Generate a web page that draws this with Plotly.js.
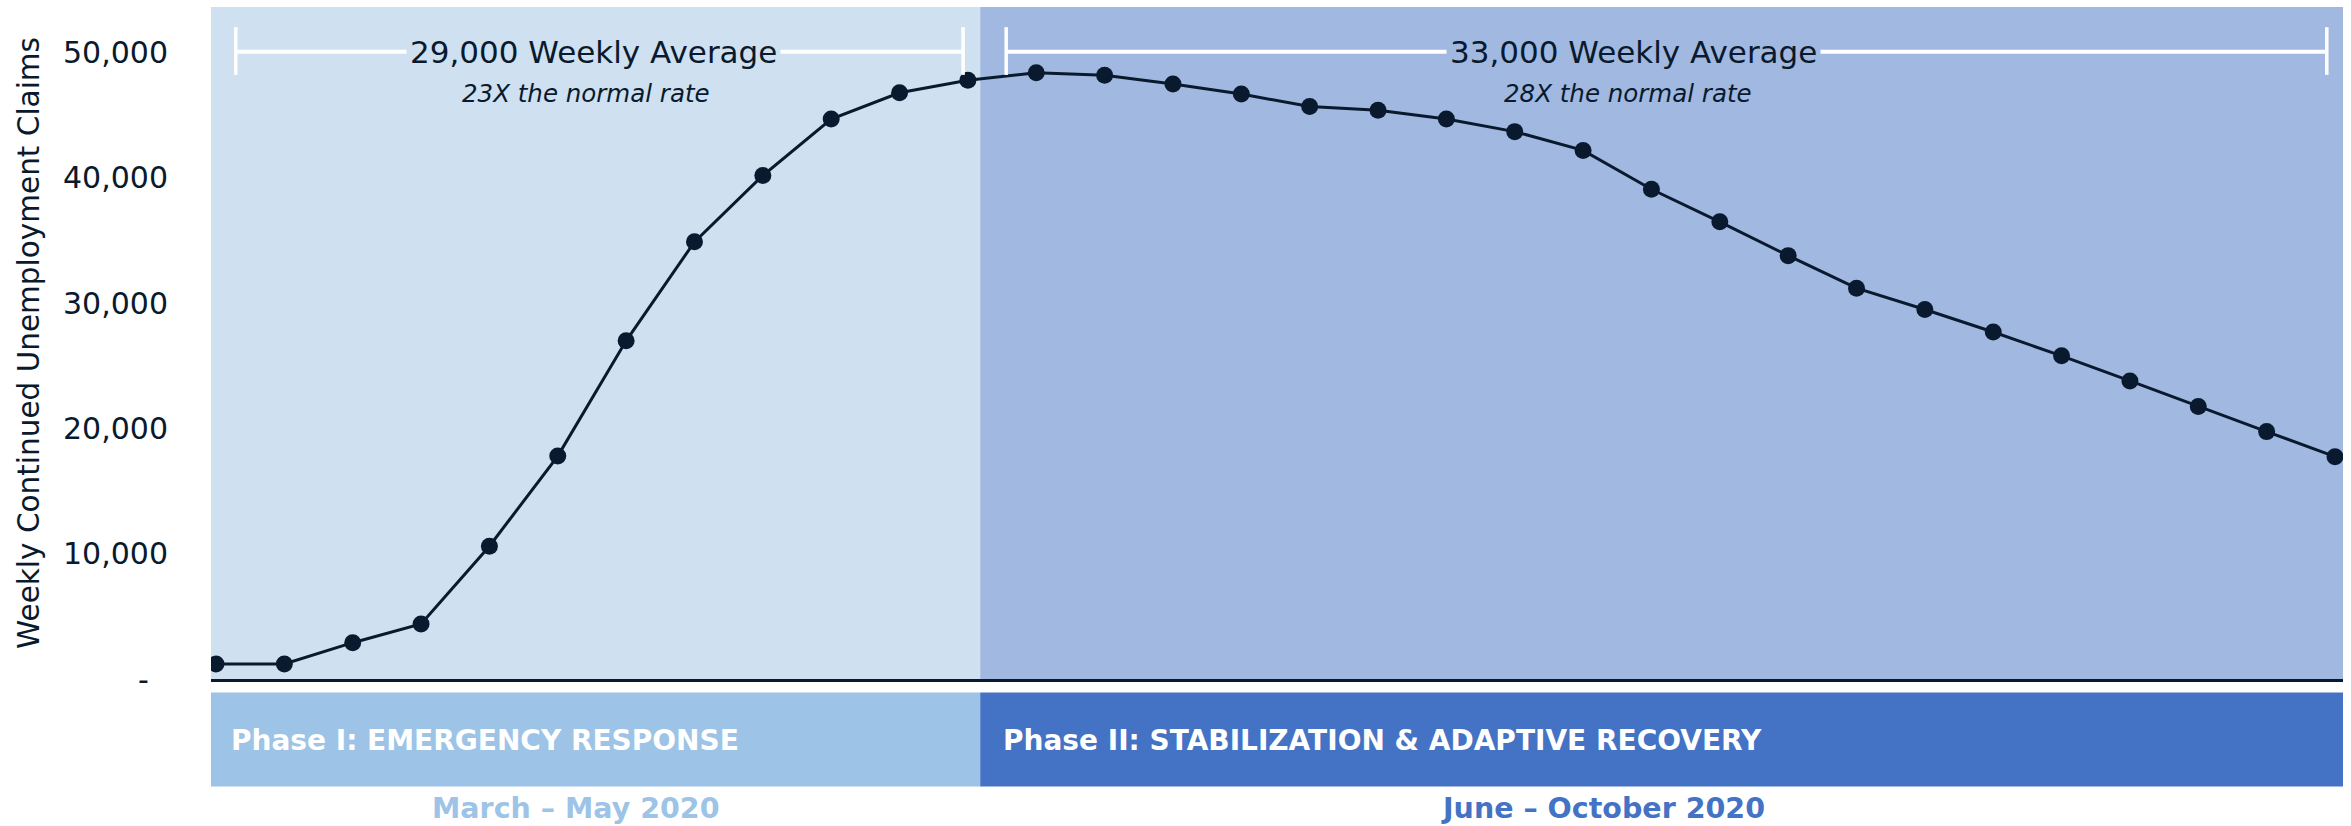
<!DOCTYPE html>
<html>
<head>
<meta charset="utf-8">
<script src="https://cdn.plot.ly/plotly-3.0.1.min.js"></script>
<style>
  html, body { margin: 0; padding: 0; background: #ffffff; }
  #chart { width: 2351px; height: 826px; }
</style>
</head>
<body>
<div id="chart"></div>
<script>
// Weekly continued unemployment claims, March - October 2020
const weeks = [1, 2, 3, 4, 5, 6, 7, 8, 9, 10, 11, 12, 13, 14, 15, 16,
               17, 18, 19, 20, 21, 22, 23, 24, 25, 26, 27, 28, 29, 30, 31, 32];
const claims = [1200, 1200, 2900, 4400, 10600, 17800, 27000, 34900, 40200, 44700, 46800, 47800,
                48400, 48200, 47500, 46700, 45700, 45400, 44700, 43700, 42200, 39100, 36500, 33800,
                31200, 29500, 27700, 25800, 23800, 21750, 19750, 17750];

const yTickVals = [0, 10000, 20000, 30000, 40000, 50000];
const yTickText = ['-\u00a0\u00a0', '10,000', '20,000', '30,000', '40,000', '50,000'];

const phaseNames = ['Phase I: EMERGENCY RESPONSE', 'Phase II: STABILIZATION & ADAPTIVE RECOVERY'];
const phaseDates = ['March \u2013 May 2020', 'June \u2013 October 2020'];
const phaseAverages = ['29,000 Weekly Average', '33,000 Weekly Average'];
const phaseMultiples = ['23X the normal rate', '28X the normal rate'];

// layout constants
const FONT = 'DejaVu Sans';
const INK = '#0A1A2E';
const xRange = [0.927, 32.117];
const yRange = [0, 53650];
const split = 12.18;              // boundary between the two phases (in week units)
const bgColors = ['#CFE0F1', '#A1B8E0'];
const bandColors = ['#9DC3E6', '#4472C4'];
const brackets = [[1.29, 11.93], [12.56, 31.88]];
const avgX = [6.53, 21.74];
const multX = [6.41, 21.66];
const phaseLabelX = [1.19, 12.48];
const dateX = [6.26, 21.29];

const shapes = [];
// shaded phase backgrounds
shapes.push({type: 'rect', xref: 'x', yref: 'paper', x0: xRange[0], x1: split, y0: 0, y1: 1,
             fillcolor: bgColors[0], line: {width: 0}, layer: 'below'});
shapes.push({type: 'rect', xref: 'x', yref: 'paper', x0: split, x1: xRange[1], y0: 0, y1: 1,
             fillcolor: bgColors[1], line: {width: 0}, layer: 'below'});
// phase bands under the axis
shapes.push({type: 'rect', xref: 'x', yref: 'paper', x0: xRange[0], x1: split, y0: -0.02, y1: -0.16,
             fillcolor: bandColors[0], line: {width: 0}});
shapes.push({type: 'rect', xref: 'x', yref: 'paper', x0: split, x1: xRange[1], y0: -0.02, y1: -0.16,
             fillcolor: bandColors[1], line: {width: 0}});
// white span brackets for each phase
brackets.forEach(([a, b]) => {
  shapes.push({type: 'line', xref: 'x', yref: 'paper', x0: a, x1: b, y0: 0.9335, y1: 0.9335,
               line: {color: '#ffffff', width: 4}, layer: 'above'});
  shapes.push({type: 'line', xref: 'x', yref: 'paper', x0: a, x1: a, y0: 0.899, y1: 0.970,
               line: {color: '#ffffff', width: 3.5}, layer: 'above'});
  shapes.push({type: 'line', xref: 'x', yref: 'paper', x0: b, x1: b, y0: 0.899, y1: 0.970,
               line: {color: '#ffffff', width: 3.5}, layer: 'above'});
});

const annotations = [];
for (let i = 0; i < 2; i++) {
  annotations.push({xref: 'x', yref: 'paper', x: avgX[i], y: 0.9335, text: phaseAverages[i],
    showarrow: false, xanchor: 'center', yanchor: 'middle', bgcolor: bgColors[i], borderpad: 3,
    font: {family: FONT, size: 31, color: INK}});
  annotations.push({xref: 'x', yref: 'paper', x: multX[i], y: 0.872, text: '<i>' + phaseMultiples[i] + '</i>',
    showarrow: false, xanchor: 'center', yanchor: 'middle',
    font: {family: FONT, size: 24.5, color: INK}});
  annotations.push({xref: 'x', yref: 'paper', x: phaseLabelX[i], y: -0.0914, text: '<b>' + phaseNames[i] + '</b>',
    showarrow: false, xanchor: 'left', yanchor: 'middle',
    font: {family: FONT, size: 28, color: '#ffffff'}});
  annotations.push({xref: 'x', yref: 'paper', x: dateX[i], y: -0.1926, text: '<b>' + phaseDates[i] + '</b>',
    showarrow: false, xanchor: 'center', yanchor: 'middle',
    font: {family: FONT, size: 28.5, color: bandColors[i]}});
}

const trace = {
  type: 'scatter', mode: 'lines+markers',
  x: weeks, y: claims,
  line: {color: INK, width: 3},
  marker: {color: INK, size: 17},
  hoverinfo: 'x+y'
};

const layout = {
  width: 2351, height: 826,
  margin: {l: 211, r: 8, t: 7, b: 147, pad: 0},
  paper_bgcolor: '#ffffff', plot_bgcolor: '#ffffff',
  showlegend: false,
  font: {family: FONT, color: INK},
  xaxis: {range: xRange, showgrid: false, zeroline: false, showticklabels: false, ticks: '',
          showline: true, linecolor: INK, linewidth: 2.5, fixedrange: true},
  yaxis: {range: yRange, showgrid: false, zeroline: false, showline: false,
          tickvals: yTickVals, ticktext: yTickText, ticks: '', ticklabelstandoff: 42,
          tickfont: {family: FONT, size: 30, color: INK},
          title: {text: 'Weekly Continued Unemployment Claims', standoff: 14,
                  font: {family: FONT, size: 29.5, color: INK}},
          fixedrange: true},
  shapes: shapes,
  annotations: annotations
};

Plotly.newPlot('chart', [trace], layout, {displayModeBar: false, staticPlot: true});
</script>
</body>
</html>
